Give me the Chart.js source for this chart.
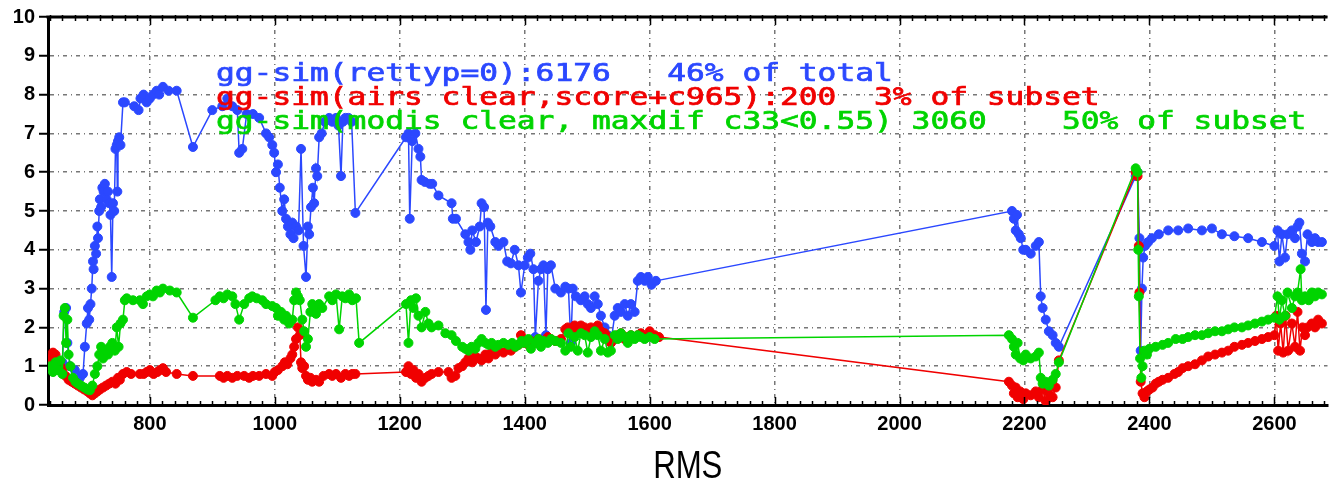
<!DOCTYPE html>
<html>
<head>
<meta charset="utf-8">
<title>gg-sim RMS</title>
<script src="https://cdn.jsdelivr.net/npm/chart.js@4.4.0/dist/chart.umd.min.js"></script>
<style>
  html, body { margin: 0; padding: 0; background: #fff; }
</style>
</head>
<body>
<canvas id="rms" width="1333" height="483"></canvas>
<script>
// axis ticks
const rmsTicks = [800, 1000, 1200, 1400, 1600, 1800, 2000, 2200, 2400, 2600];
const valueTicks = [0, 1, 2, 3, 4, 5, 6, 7, 8, 9, 10];
const xTitle = 'RMS';

const seriesLabels = [
	'gg-sim(rettyp=0):6176   46% of total',
	'gg-sim(airs clear,score+c965):200  3% of subset',
	'gg-sim(modis clear, maxdif c33<0.55) 3060    50% of subset'
];
const seriesColors = ['#2b48ff', '#f00000', '#00d400'];

// rettyp=0
const blueRms = [660, 663, 666, 668, 672, 680, 688, 693, 696, 699, 701, 703, 705, 707, 709, 710, 712, 714, 716, 717,
	719, 720, 722, 724, 726, 728, 731, 733, 735, 737, 739, 741, 743, 745, 747, 748, 749, 751, 753, 757,
	760, 775, 782, 785, 790, 795, 800, 805, 811, 815, 821, 830, 843, 869, 900, 916, 924, 932, 940, 943,
	948, 955, 965, 975, 986, 991, 996, 999, 1002, 1005, 1008, 1012, 1015, 1018, 1021, 1025, 1028, 1030, 1034, 1038,
	1042, 1046, 1050, 1053, 1055, 1058, 1061, 1063, 1066, 1068, 1071, 1075, 1080, 1087, 1092, 1098, 1102, 1106, 1109, 1113,
	1118, 1123, 1129, 1210, 1214, 1216, 1220, 1225, 1230, 1233, 1235, 1240, 1248, 1252, 1262, 1283, 1285, 1290, 1305, 1310,
	1313, 1316, 1322, 1328, 1331, 1335, 1338, 1341, 1345, 1353, 1358, 1366, 1372, 1378, 1384, 1390, 1394, 1400, 1405, 1409,
	1414, 1417, 1422, 1426, 1430, 1434, 1437, 1442, 1449, 1458, 1465, 1470, 1474, 1477, 1482, 1490, 1496, 1501, 1506, 1512,
	1517, 1522, 1528, 1533, 1538, 1544, 1549, 1554, 1560, 1565, 1570, 1576, 1581, 1586, 1592, 1597, 1603, 1610,
	2180, 2183, 2186, 2188, 2191, 2194, 2198, 2202, 2210, 2218, 2223, 2226, 2229, 2234, 2239, 2245, 2250, 2255,
	2378, 2381, 2384, 2386, 2388, 2390, 2393, 2398, 2404, 2415, 2430, 2446, 2462, 2484, 2500, 2516, 2536, 2558, 2580, 2600,
	2605, 2608, 2612, 2617, 2621, 2628, 2633, 2637, 2640, 2644, 2649, 2653, 2660, 2665, 2670, 2676];
const blueVal = [1.1, 2.4, 2.5, 1.6, 1.0, 0.9, 0.7, 0.8, 1.5, 2.1, 2.5, 2.2, 2.6, 3.0, 3.7, 3.5, 4.1, 3.9, 4.6, 4.3,
	5.0, 5.3, 5.1, 5.6, 5.5, 5.7, 5.3, 5.5, 5.2, 4.9, 3.3, 5.2, 5.0, 6.6, 6.7, 5.5, 6.8, 6.9, 6.7, 7.8,
	7.8, 7.7, 7.6, 7.9, 8.0, 7.8, 7.9, 8.0, 8.1, 8.0, 8.2, 8.1, 8.1, 6.65, 7.6, 7.7, 7.9, 7.7, 7.6, 6.5,
	6.6, 7.5, 7.5, 7.4, 7.0, 6.9, 6.7, 6.5, 6.0, 6.2, 5.6, 5.0, 5.3, 4.8, 4.6, 4.4, 4.7, 4.3, 4.6, 4.5,
	6.6, 4.1, 3.3, 4.6, 4.4, 5.1, 5.6, 5.2, 6.1, 5.9, 6.9, 7.0, 7.3, 7.4, 7.3, 7.4, 7.2, 5.9, 7.3, 7.4,
	7.4, 7.3, 4.95, 6.9, 7.0, 4.8, 6.8, 7.0, 6.6, 6.4, 5.8, 5.75, 5.7, 5.7, 5.4, 5.2, 4.8, 4.8, 4.4, 4.2,
	4.0, 4.5, 4.2, 4.6, 5.2, 5.1, 2.45, 4.7, 4.6, 4.2, 4.1, 4.2, 3.7, 3.65, 4.0, 3.6, 2.9, 3.6, 3.8, 3.9,
	3.5, 1.75, 3.2, 3.5, 3.6, 1.8, 3.5, 3.6, 3.0, 2.9, 3.05, 3.0, 1.6, 3.0, 2.8, 2.7, 2.8, 2.6, 2.5, 2.8,
	2.6, 2.3, 2.0, 1.8, 1.6, 2.3, 2.5, 2.4, 2.6, 2.3, 2.6, 2.4, 3.2, 3.3, 3.2, 3.3, 3.1, 3.2,
	5.0, 4.8, 4.5, 4.9, 4.4, 4.3, 4.0, 4.0, 3.9, 4.1, 4.2, 2.8, 2.5, 2.2, 1.9, 1.8, 1.6, 1.5,
	5.9, 6.0, 4.3, 1.4, 3.0, 3.8, 4.1, 4.2, 4.3, 4.4, 4.5, 4.5, 4.55, 4.5, 4.55, 4.4, 4.35, 4.3, 4.2, 4.1,
	4.5, 3.7, 4.4, 3.8, 4.4, 4.5, 4.3, 4.6, 4.7, 3.9, 3.7, 4.4, 4.2, 4.3, 4.2, 4.2];

// airs clear
const redRms = [641, 645, 649, 653, 657, 660, 665, 670, 675, 680, 685, 690, 695, 700, 704, 708, 712, 716, 720, 725,
	730, 735, 740, 745, 749, 752, 757, 763, 770, 784, 790, 795, 800, 806, 812, 816, 821, 826, 843, 869,
	912, 918, 924, 932, 940, 951, 959, 965, 975, 986, 996, 1000, 1005, 1012, 1016, 1020, 1025, 1028, 1031, 1034,
	1037, 1040, 1042, 1044, 1047, 1050, 1053, 1057, 1060, 1066, 1071, 1078, 1087, 1092, 1098, 1106, 1113, 1119, 1124, 1129,
	1210, 1214, 1218, 1222, 1226, 1230, 1235, 1241, 1246, 1251, 1262, 1278, 1283, 1289, 1294, 1300, 1305, 1310, 1316, 1321,
	1326, 1331, 1337, 1342, 1347, 1353, 1358, 1366, 1374, 1378, 1385, 1390, 1394, 1400, 1406, 1410, 1417, 1422, 1430, 1437,
	1442, 1449, 1458, 1465, 1469, 1474, 1480, 1485, 1490, 1496, 1501, 1506, 1512, 1517, 1522, 1528, 1533, 1538, 1544, 1549,
	1554, 1560, 1565, 1570, 1576, 1581, 1586, 1592, 1600, 1608, 1615,
	2175, 2180, 2183, 2186, 2189, 2193, 2198, 2202, 2210, 2218, 2223, 2229, 2234, 2239, 2245, 2250, 2255,
	2378, 2381, 2383, 2384, 2386, 2389, 2392, 2396, 2400, 2405, 2410, 2415, 2421, 2430, 2440, 2446, 2453, 2462, 2473, 2484,
	2494, 2505, 2516, 2526, 2536, 2548, 2558, 2569, 2580, 2590, 2600, 2603, 2606, 2610, 2614, 2618, 2622, 2628, 2633, 2637,
	2641, 2645, 2649, 2653, 2660, 2665, 2670, 2676];
const redVal = [1.2, 1.35, 1.3, 1.1, 1.0, 0.9, 0.75, 0.65, 0.6, 0.55, 0.5, 0.45, 0.4, 0.35, 0.3, 0.25, 0.3, 0.35, 0.4, 0.45,
	0.5, 0.55, 0.6, 0.55, 0.7, 0.65, 0.8, 0.85, 0.8, 0.8, 0.8, 0.85, 0.9, 0.8, 0.85, 0.9, 0.95, 0.85, 0.8, 0.75,
	0.75, 0.7, 0.75, 0.7, 0.75, 0.75, 0.7, 0.75, 0.75, 0.8, 0.75, 0.85, 0.9, 1.0, 1.1, 1.05, 1.2, 1.3, 1.5, 1.7,
	2.0, 1.8, 1.1, 0.95, 1.0, 0.75, 0.65, 0.7, 0.6, 0.65, 0.6, 0.75, 0.8, 0.75, 0.8, 0.7, 0.8, 0.75, 0.8, 0.8,
	0.85, 1.0, 0.8, 0.9, 0.7, 0.8, 0.6, 0.7, 0.75, 0.8, 0.85, 0.85, 0.7, 0.75, 0.95, 1.0, 1.1, 1.2, 1.1, 1.25,
	1.2, 1.15, 1.3, 1.2, 1.35, 1.3, 1.4, 1.35, 1.45, 1.4, 1.5, 1.55, 1.8, 1.6, 1.55, 1.65, 1.6, 1.7, 1.65, 1.75,
	1.7, 1.65, 1.7, 1.95, 2.0, 1.9, 2.05, 1.95, 2.05, 2.0, 1.9, 2.0, 1.95, 2.05, 1.9, 1.85, 1.75, 1.6, 1.7, 1.8,
	1.85, 1.7, 1.75, 1.8, 1.75, 1.8, 1.85, 1.75, 1.9, 1.8, 1.75,
	0.6, 0.5, 0.3, 0.45, 0.2, 0.35, 0.15, 0.3, 0.25, 0.35, 0.2, 0.4, 0.1, 0.3, 0.2, 0.45, 1.15,
	6.0, 5.9, 4.1, 2.9, 0.6, 0.3, 0.2, 0.35, 0.4, 0.45, 0.55, 0.6, 0.65, 0.7, 0.8, 0.85, 0.95, 1.0, 1.05, 1.15,
	1.25, 1.3, 1.35, 1.4, 1.5, 1.55, 1.6, 1.65, 1.7, 1.75, 1.8, 2.3, 1.4, 2.1, 1.35, 2.3, 1.4, 2.1, 1.5, 2.4,
	1.4, 2.0, 1.8, 2.0, 2.1, 2.0, 2.2, 2.1];

// modis clear
const greenRms = [641, 645, 649, 653, 657, 660, 662, 664, 666, 668, 670, 673, 677, 681, 685, 690, 695, 700, 704, 708,
	712, 716, 719, 722, 725, 730, 733, 736, 740, 744, 747, 750, 753, 757, 760, 763, 773, 784, 789, 795,
	800, 805, 811, 816, 821, 832, 843, 869, 905, 912, 918, 924, 932, 937, 943, 951, 959, 964, 971, 980,
	986, 996, 1002, 1005, 1010, 1015, 1018, 1023, 1028, 1031, 1034, 1037, 1040, 1044, 1047, 1050, 1053, 1057, 1060, 1063,
	1066, 1071, 1076, 1087, 1092, 1098, 1103, 1108, 1113, 1119, 1124, 1130, 1135, 1210, 1214, 1218, 1222, 1226, 1230, 1235,
	1241, 1246, 1251, 1262, 1273, 1283, 1290, 1300, 1305, 1310, 1315, 1321, 1326, 1331, 1337, 1342, 1347, 1353, 1358, 1366,
	1374, 1380, 1385, 1390, 1395, 1400, 1406, 1410, 1417, 1422, 1426, 1430, 1437, 1442, 1449, 1458, 1465, 1470, 1474, 1480,
	1485, 1490, 1496, 1501, 1506, 1512, 1517, 1522, 1528, 1533, 1538, 1544, 1549, 1554, 1560, 1565, 1570, 1576, 1581, 1586,
	1592, 1600, 1608,
	2175, 2180, 2183, 2186, 2189, 2193, 2198, 2202, 2210, 2218, 2223, 2226, 2229, 2234, 2239, 2245, 2250, 2255,
	2378, 2381, 2382, 2383, 2385, 2387, 2389, 2392, 2396, 2400, 2410, 2421, 2430, 2442, 2453, 2462, 2473, 2484, 2494, 2505,
	2516, 2526, 2536, 2548, 2558, 2569, 2580, 2590, 2600, 2605, 2608, 2612, 2617, 2621, 2628, 2633, 2637, 2642, 2644, 2649,
	2655, 2660, 2665, 2670, 2676];
const greenVal = [1.0, 0.85, 1.1, 0.9, 1.15, 0.8, 2.3, 2.5, 1.6, 2.2, 1.3, 1.0, 0.7, 0.6, 0.55, 0.5, 0.45, 0.4, 0.38, 0.5,
	0.8, 1.0, 1.3, 1.5, 1.2, 1.4, 1.3, 1.5, 1.6, 1.4, 2.0, 1.5, 2.1, 2.2, 2.7, 2.75, 2.7, 2.7, 2.6, 2.8,
	2.85, 2.8, 2.95, 2.9, 3.0, 2.95, 2.9, 2.25, 2.7, 2.8, 2.75, 2.85, 2.8, 2.6, 2.2, 2.6, 2.75, 2.8, 2.75, 2.7,
	2.6, 2.55, 2.5, 2.3, 2.4, 2.2, 2.3, 2.1, 2.2, 2.7, 2.9, 2.8, 2.7, 2.2, 1.9, 1.5, 1.7, 2.4, 2.6, 2.5,
	2.35, 2.6, 2.5, 2.8, 2.7, 2.85, 1.95, 2.8, 2.75, 2.85, 2.7, 2.75, 1.6, 2.6, 1.6, 2.7, 2.5, 2.75, 2.3, 2.0,
	2.4, 2.1, 2.0, 2.05, 1.85, 1.8, 1.65, 1.5, 1.45, 1.4, 1.5, 1.45, 1.6, 1.7, 1.6, 1.55, 1.6, 1.5, 1.55, 1.6,
	1.55, 1.6, 1.5, 1.55, 1.65, 1.6, 1.7, 1.45, 1.6, 1.7, 1.5, 1.65, 1.6, 1.7, 1.65, 1.6, 1.4, 1.85, 1.5, 1.75,
	1.4, 1.85, 1.8, 1.35, 1.75, 1.9, 1.8, 1.4, 1.7, 1.35, 1.4, 1.8, 1.7, 1.85, 1.75, 1.6, 1.8, 1.7, 1.8, 1.75,
	1.7, 1.75, 1.7,
	1.8, 1.7, 1.5, 1.3, 1.6, 1.2, 1.15, 1.3, 1.2, 1.25, 1.35, 0.7, 0.55, 0.6, 0.5, 0.65, 0.8, 1.1,
	6.1, 6.0, 4.0, 2.8, 1.2, 0.7, 1.0, 1.4, 1.3, 1.45, 1.5, 1.55, 1.6, 1.7, 1.7, 1.75, 1.8, 1.8, 1.85, 1.9,
	1.9, 1.95, 2.0, 2.0, 2.05, 2.1, 2.15, 2.2, 2.25, 2.8, 2.2, 2.7, 2.3, 2.9, 2.5, 2.8, 2.9, 3.5, 2.7, 2.8,
	2.7, 2.9, 2.8, 2.9, 2.85];

function pairs(xs, ys) {
	return xs.map((x, i) => ({ x: x, y: ys[i] }));
}

function series(i, xs, ys, order) {
	return {
		label: seriesLabels[i],
		data: pairs(xs, ys),
		borderColor: seriesColors[i],
		backgroundColor: seriesColors[i],
		borderWidth: 1.5,
		pointRadius: 4.5,
		pointBorderWidth: 1,
		pointStyle: 'circle',
		tension: 0,
		order: order
	};
}

// top frame line, minor ticks on the RMS axis, axis title and the coloured legend lines
const frame = {
	id: 'frame',
	afterDatasetsDraw(chart) {
		const ctx = chart.ctx;
		const area = chart.chartArea;
		const x = chart.scales.x;

		ctx.save();
		ctx.strokeStyle = '#000';
		ctx.lineWidth = 3;
		ctx.beginPath();
		ctx.moveTo(area.left - 1.5, area.top);
		ctx.lineTo(area.right, area.top);
		ctx.stroke();

		ctx.lineWidth = 1.5;
		ctx.beginPath();
		for (let v = 640; v <= x.max; v += 20) {
			const px = Math.round(x.getPixelForValue(v)) + 0.5;
			const len = v % 200 === 0 ? 8 : 4;
			ctx.moveTo(px, area.bottom + 2);
			ctx.lineTo(px, area.bottom - len);
			ctx.moveTo(px, area.top - 2);
			ctx.lineTo(px, area.top + len);
		}
		ctx.stroke();

		// narrow axis title under the ticks
		ctx.save();
		ctx.font = '38px "Liberation Sans", Arial, sans-serif';
		ctx.fillStyle = '#000';
		ctx.textAlign = 'center';
		ctx.textBaseline = 'alphabetic';
		ctx.translate((area.left + area.right) / 2, 478);
		ctx.scale(0.82, 1);
		ctx.fillText(xTitle, 0, 0);
		ctx.restore();

		ctx.font = '24px "DejaVu Sans Mono"';
		const sx = 18.8 / ctx.measureText('0').width;
		ctx.textBaseline = 'alphabetic';
		ctx.lineWidth = 0.7;
		seriesLabels.forEach((t, i) => {
			ctx.save();
			ctx.translate(216, 81 + i * 24);
			ctx.scale(sx, 1);
			ctx.fillStyle = seriesColors[i];
			ctx.strokeStyle = seriesColors[i];
			ctx.fillText(t, 0, 0);
			ctx.strokeText(t, 0, 0);
			ctx.restore();
		});
		ctx.restore();
	}
};

const gridDash = [4, 4, 1, 4];
const tickFont = { family: '"Liberation Sans", Arial, sans-serif', weight: 'bold', size: 20 };

new Chart(document.getElementById('rms'), {
	type: 'line',
	data: {
		datasets: [
			series(0, blueRms, blueVal, 3),
			series(1, redRms, redVal, 2),
			series(2, greenRms, greenVal, 1)
		]
	},
	options: {
		responsive: false,
		animation: false,
		events: [],
		layout: { padding: { top: 17, right: 0, left: 0, bottom: 0 } },
		plugins: {
			legend: { display: false },
			tooltip: { enabled: false }
		},
		scales: {
			x: {
				type: 'linear',
				min: 637,
				max: 2685,
				afterBuildTicks: s => { s.ticks = rmsTicks.map(v => ({ value: v })); },
				afterFit: s => { s.height = 78; },
				ticks: { font: tickFont, color: '#000', padding: 7, maxRotation: 0, autoSkip: false, callback: v => String(v) },
				grid: { color: '#777', lineWidth: 1.5, drawTicks: false },
				border: { color: '#000', width: 3, dash: gridDash }
			},
			y: {
				min: 0,
				max: 10,
				afterBuildTicks: s => { s.ticks = valueTicks.map(v => ({ value: v })); },
				afterFit: s => { s.width = 48; },
				ticks: { font: tickFont, color: '#000', padding: 4 },
				grid: { color: '#777', lineWidth: 1.5, tickLength: 9, tickColor: '#000', tickWidth: 2, tickBorderDash: [] },
				border: { color: '#000', width: 3, dash: gridDash }
			}
		}
	},
	plugins: [frame]
});
</script>
</body>
</html>
